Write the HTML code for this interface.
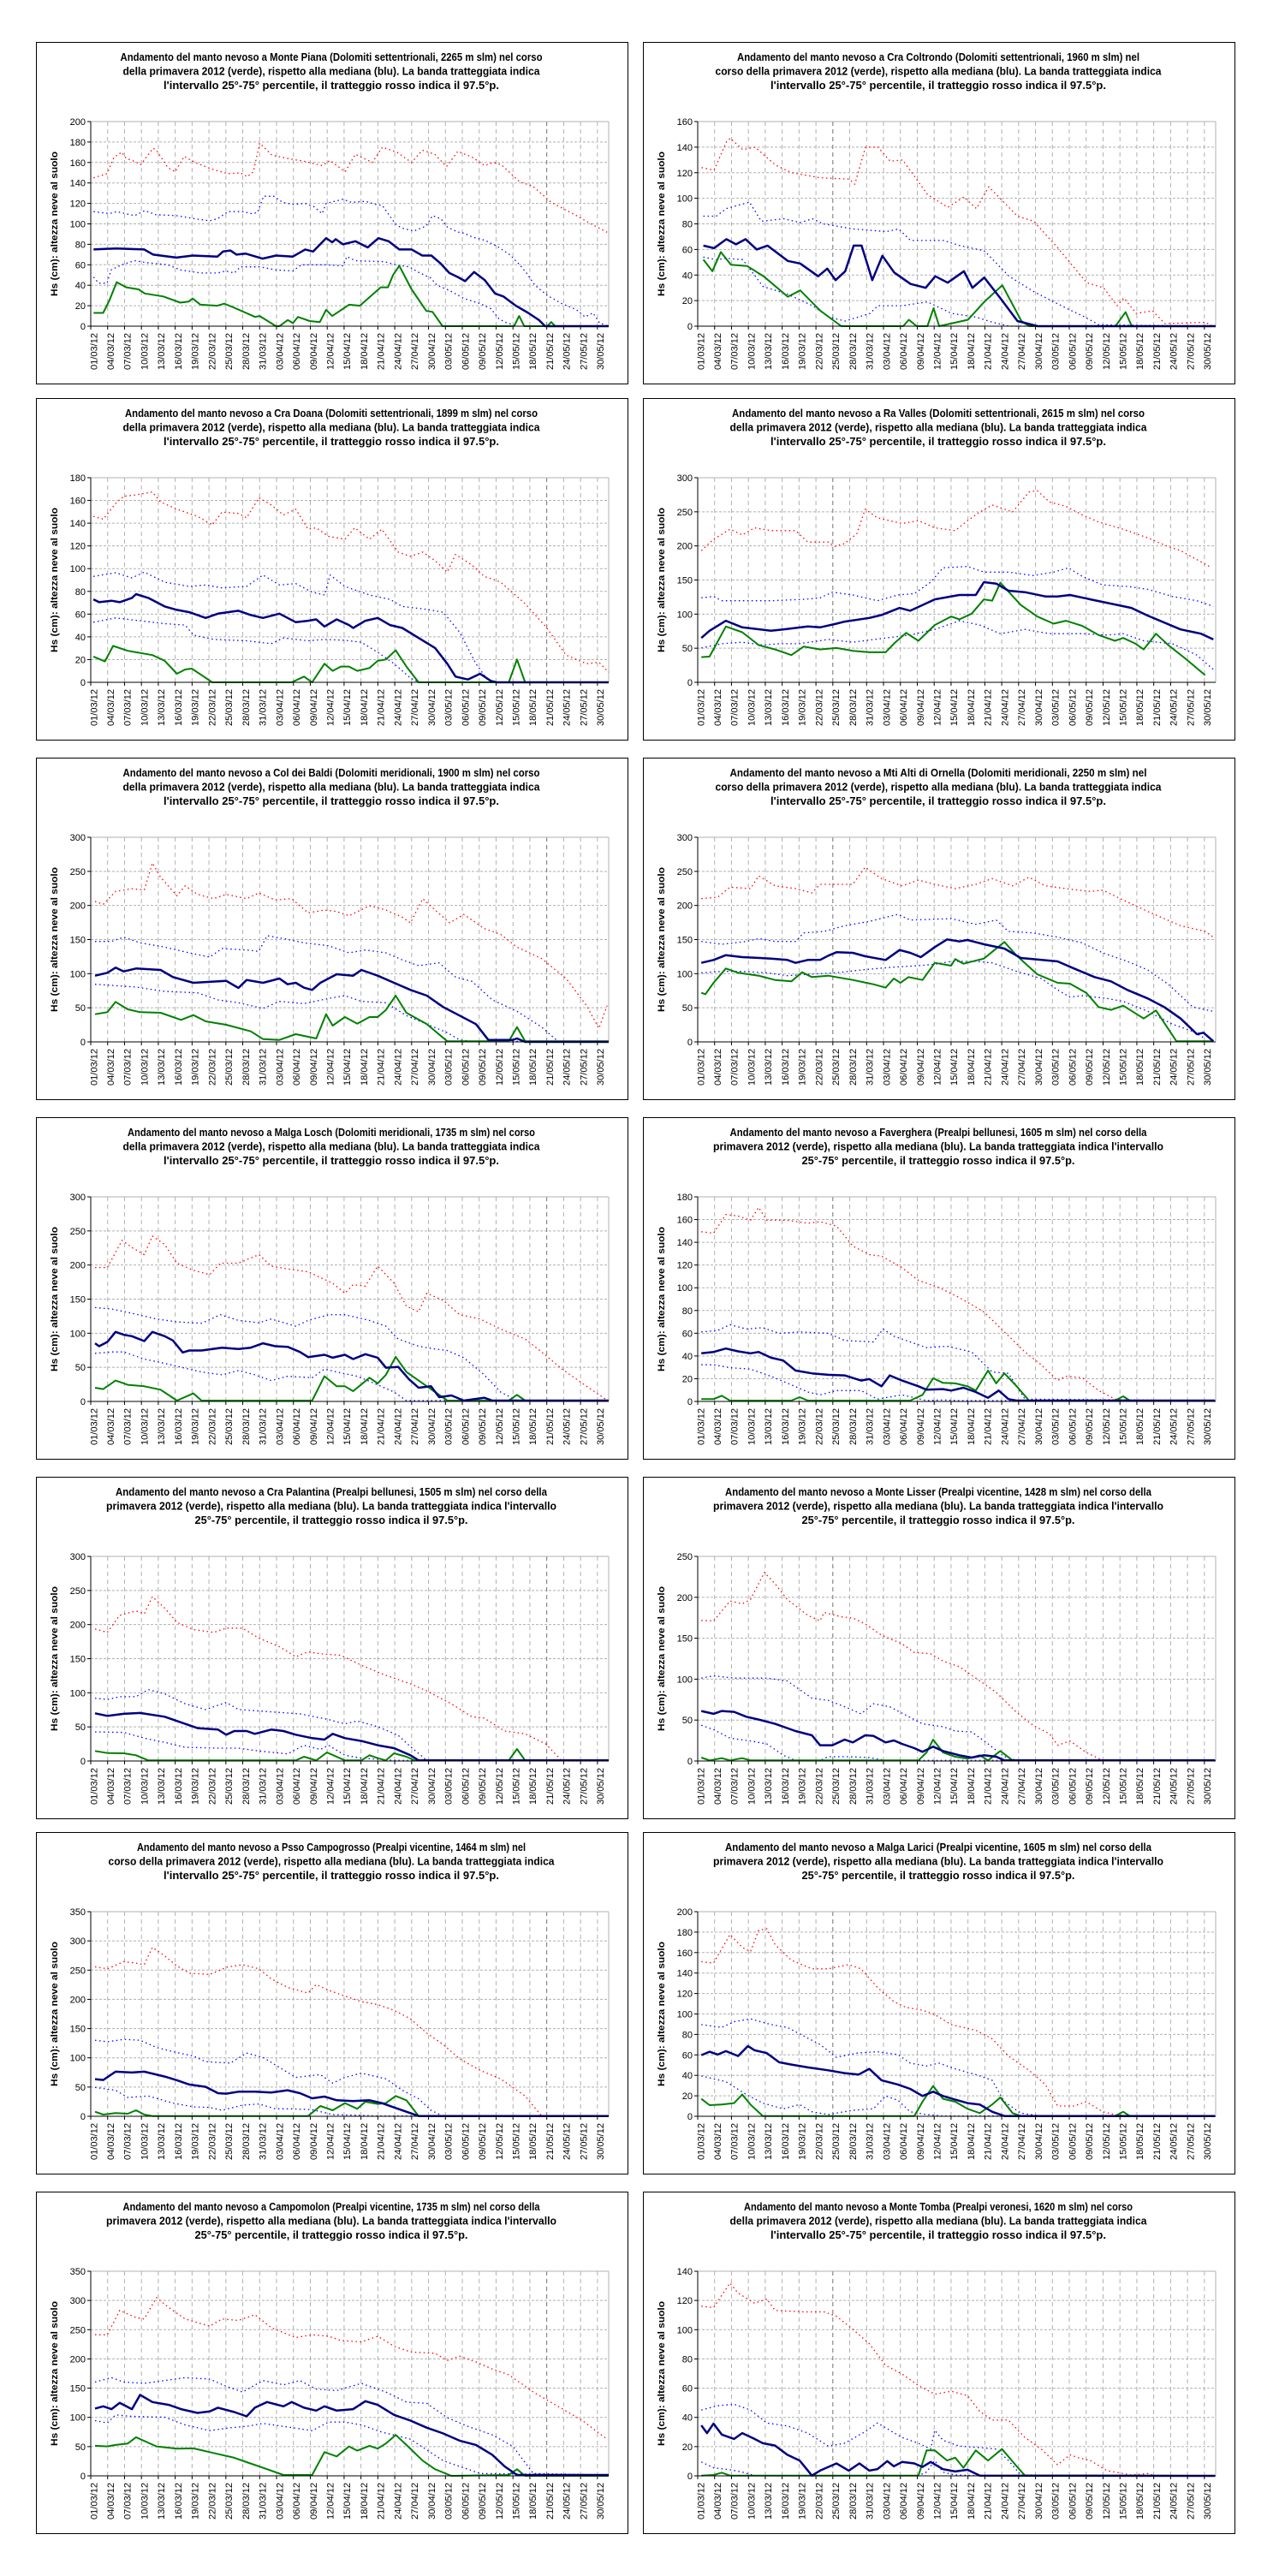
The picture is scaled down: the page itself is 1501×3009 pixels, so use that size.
<!DOCTYPE html>
<html><head><meta charset="utf-8">
<style>html,body{margin:0;padding:0;background:#fff}svg{display:block}</style>
</head><body>
<svg id="s" xmlns="http://www.w3.org/2000/svg" width="1501" height="3009" viewBox="0 0 1501 3009" font-family="'Liberation Sans', sans-serif">
<rect width="1501" height="3009" fill="#fff"/>
<text x="-100" y="-100" font-size="11">Andamento del manto nevoso</text>
</svg>
<script>
var NS="http://www.w3.org/2000/svg";
var svg=document.getElementById('s');
function el(n,a,t){var e=document.createElementNS(NS,n);for(var k in a)e.setAttribute(k,a[k]);if(t!==undefined)e.textContent=t;svg.appendChild(e);return e;}
var L2="della primavera 2012 (verde), rispetto alla mediana (blu). La banda tratteggiata indica";
var L3="l'intervallo 25°-75° percentile, il tratteggio rosso indica il 97.5°p.";
var M2="corso della primavera 2012 (verde), rispetto alla mediana (blu). La banda tratteggiata indica";
var P2="primavera 2012 (verde), rispetto alla mediana (blu). La banda tratteggiata indica l'intervallo";
var P3="25°-75° percentile, il tratteggio rosso indica il 97.5°p.";
var A="Andamento del manto nevoso a ";
var rowsZ=[[37,753],[30,745],[35,752],[38,753],[44,760],[35,751],[38,753]];
var C=[
{t:[A+"Monte Piana (Dolomiti settentrionali, 2265 m slm) nel corso",L2,L3],max:200,step:20,f:'d',s:{
r:[[0,145],[2.4,149],[3.6,165],[5,170],[5.8,164],[7.3,161],[8.4,158],[10.6,174],[11.3,171],[13.2,155],[14.5,151],[16.1,166],[18,160],[21.3,153],[23.9,149],[26.1,150],[27.3,146],[28.4,151],[29.5,179],[31.7,167],[35.4,163],[37.6,161],[40.6,157],[42,162],[44.7,151],[46.5,168],[49.5,160],[51.3,175],[53.9,170],[56.5,160],[58.4,172],[60.6,168],[62.7,156],[64.7,171],[67.3,165],[69.5,157],[71,160],[72.4,158],[75.7,141],[78,137],[81.3,121],[85.8,108],[88,101],[91.5,91]],
b75:[[0,112],[2.8,110],[4.1,112],[7.3,108],[9.1,113],[11,109],[14.7,108],[18,105],[20.6,103],[22,105],[23.9,112],[26.5,112],[28,110],[29.1,111],[30.2,127],[32,127],[33.6,121],[35.4,119],[37.6,120],[39.1,117],[40.6,110],[41.3,120],[44.3,124],[45.8,121],[48.3,122],[50.2,119],[51.3,118],[53.6,100],[54.7,96],[56.9,93],[59.1,98],[60.2,108],[61.7,105],[62.8,97],[64.7,92],[65.8,91],[67.3,87],[69.5,84],[71.7,78],[73.9,70],[75.7,60],[76.9,52],[78.4,40],[80.6,30],[83.2,22],[85.8,16],[87.3,9],[88.7,13],[89.9,3],[91.7,0]],
b25:[[0,48],[0.9,42],[2.4,42],[3.1,55],[5,60],[7.3,64],[9.5,62],[13.2,60],[15.4,55],[19.1,52],[22,52],[23.5,54],[25,52],[26.1,58],[29.5,58],[32.4,55],[35.4,54],[36.9,60],[41.3,60],[44.3,59],[45,68],[46.5,64],[51.7,63],[53.6,60],[56.1,58],[57.6,53],[59.9,47],[61,40],[63.2,35],[65.8,27],[68.7,22],[70.6,17],[72,7],[73.5,3],[75.4,0]],
m:[[0,75],[4,76],[9,75],[10.6,70],[14.7,67],[17.6,69],[22,68],[23,73],[24.3,74],[25.4,70],[27,71],[30,66],[32.4,69],[35.4,68],[37.6,75],[39,73],[41.3,86],[42.4,82],[43,85],[44.3,80],[46.5,83],[48.7,77],[50.6,86],[52.4,83],[54.3,75],[56.5,75],[58.4,69],[60,69],[61.7,61],[63.2,52],[64.7,48],[66,44],[67.6,53],[69.5,45],[71.3,32],[72.8,29],[75,20],[77.2,13],[79.1,6],[80.2,0],[91.7,0]],
g:[[0,13],[1.7,13],[2.8,25],[4.1,43],[5.8,38],[8,36],[9.1,32],[12.4,29],[15.4,23],[16.9,24],[17.6,27],[19,21],[22,20],[23.2,22],[25,18],[28.7,9],[29.5,10],[32.4,0],[33,0],[34.5,6],[35.4,3],[36.3,9],[38.4,5],[40.2,4],[41.3,16],[42.4,10],[45.4,21],[47.3,20],[51,38],[52.3,38],[53.2,50],[54.3,59],[56.5,36],[59.1,15],[60.2,14],[62,0],[74.7,0],[75.6,10],[76.5,0],[80.6,0],[81.3,4],[82,0],[91.7,0]]}},
{t:[A+"Cra Coltrondo (Dolomiti settentrionali, 1960 m slm) nel",M2,L3],max:160,step:20,f:'d',s:{
r:[[0.2,124],[2.4,122],[4.6,144],[5.3,147],[7.5,138],[9.7,140],[13.3,126],[16.2,120],[21.3,116],[26.4,115],[27.4,111],[29.3,140],[31.5,140],[33.7,129],[35.9,130],[40.3,103],[43.9,93],[46.8,101],[49,92],[51.2,109],[56.3,86],[59.2,82],[63.5,61],[68.6,34],[71.6,30],[74,16],[75.2,22],[77.4,10],[80.3,12],[82.5,2],[89.7,3],[91,0]],
b75:[[0.5,86],[2.8,86],[4.6,92],[8.7,97],[10.8,82],[14.8,84],[17.7,81],[19.9,84],[21.8,80],[27.2,76],[33,74],[35.2,76],[37.3,67],[43.2,67],[46.1,63],[50.4,59],[54.8,39],[59.2,27],[65,14],[67.9,8],[70.8,1],[91.7,0]],
b25:[[0.5,54],[2.8,52],[4.6,53],[7.5,52],[11.1,31],[15.5,25],[19.9,16],[22.8,7],[25.7,4],[30.1,10],[31.5,16],[35.9,16],[40.3,19],[44.6,10],[49,7],[51.9,3],[54.8,0],[91.7,0]],
m:[[0.5,63],[2.4,61],[4.6,68],[6.3,64],[8,68],[10,60],[11.9,63],[15.5,51],[17.7,49],[20.9,39],[22.5,45],[24,36],[25.7,43],[27.2,63],[28.6,63],[30.5,36],[32.3,55],[34.4,42],[37.3,33],[40,30],[41.7,39],[43.9,34],[46.8,43],[48.3,30],[50.4,38],[53.4,21],[56.3,4],[59.9,0],[91.7,0]],
g:[[0.5,52],[2.1,43],[3.6,58],[5.4,48],[8.3,47],[11.2,39],[15.5,23],[17.7,28],[21.3,12],[25,0],[36,0],[37,5],[38.4,0],[40.3,0],[41.4,14],[42.4,0],[47.5,5],[50.4,19],[53.6,32],[57,4],[58.4,0],[73.7,0],[75.5,11],[76.6,0],[91.7,0]]}},
{t:[A+"Cra Doana (Dolomiti settentrionali, 1899 m slm) nel corso",L2,L3],max:180,step:20,f:'z',s:{
r:[[113,165],[125,175],[140,120],[150,95],[165,90],[185,80],[195,115],[215,140],[240,165],[258,195],[270,150],[290,155],[300,170],[315,100],[330,125],[345,160],[360,140],[375,210],[385,205],[400,235],[420,245],[432,205],[450,245],[465,210],[485,290],[500,305],[515,290],[530,320],[545,360],[555,298],[575,335],[590,375],[610,395],[640,470],[665,550],[690,650],[715,680],[730,675],[742,710]],
b75:[[113,375],[140,362],[160,380],[175,360],[200,395],[230,410],[250,405],[270,415],[300,410],[320,370],[340,405],[360,400],[380,430],[395,440],[402,370],[420,410],[450,440],[475,455],[490,480],[520,490],[540,500],[560,570],[580,680],[595,740],[610,745],[742,745]],
b25:[[113,535],[140,520],[170,530],[200,540],[225,545],[235,580],[260,595],[300,600],[330,610],[345,590],[375,600],[395,595],[420,598],[440,605],[460,640],[480,680],[500,730],[510,745],[742,745]],
m:[[113,455],[120,465],[135,460],[145,465],[160,450],[165,437],[180,450],[200,480],[215,492],[230,500],[250,520],[265,505],[290,495],[305,510],[320,520],[340,505],[360,535],[375,530],[385,525],[395,550],[410,525],[425,545],[430,555],[445,530],[460,520],[475,545],[490,555],[510,590],[530,625],[545,680],[555,725],[570,735],[585,715],[598,740],[605,745],[742,745]],
g:[[113,655],[127,672],[137,618],[155,635],[185,650],[200,670],[215,715],[225,700],[233,697],[245,720],[258,745],[355,745],[370,725],[380,745],[395,680],[405,705],[415,690],[425,690],[435,705],[450,695],[460,670],[470,665],[482,633],[495,690],[510,745],[620,745],[630,665],[640,745],[742,745]]}},
{t:[A+"Ra Valles (Dolomiti settentrionali, 2615 m slm) nel corso",L2,L3],max:300,step:50,f:'z',s:{
r:[[855,285],[870,245],[890,210],[905,230],[920,205],[940,215],[970,215],[985,255],[1010,255],[1018,270],[1030,260],[1045,225],[1055,140],[1070,170],[1100,190],[1120,180],[1140,205],[1165,215],[1180,180],[1195,150],[1210,125],[1235,150],[1255,80],[1265,75],[1280,115],[1300,130],[1320,160],[1340,185],[1370,210],[1400,240],[1420,265],[1440,285],[1475,340]],
b75:[[855,450],[870,445],[880,460],[900,460],[940,460],[980,455],[1000,450],[1015,430],[1040,440],[1070,460],[1095,440],[1115,435],[1135,395],[1150,345],[1180,340],[1200,360],[1230,360],[1260,372],[1285,360],[1303,345],[1320,375],[1345,405],[1375,410],[1400,420],[1430,445],[1460,460],[1480,480]],
b25:[[855,625],[880,610],[905,605],[930,615],[950,610],[975,610],[1010,595],[1040,605],[1080,590],[1110,580],[1140,560],[1170,530],[1195,545],[1220,575],[1250,560],[1280,575],[1320,575],[1350,580],[1370,575],[1395,600],[1430,610],[1460,650],[1480,700]],
m:[[855,590],[865,565],[885,530],[905,553],[940,565],[955,560],[985,550],[1000,553],[1020,540],[1030,533],[1060,520],[1075,510],[1097,485],[1110,495],[1125,475],[1140,455],[1170,440],[1190,440],[1200,395],[1215,400],[1230,425],[1250,430],[1275,445],[1290,445],[1305,440],[1330,455],[1355,470],[1380,485],[1400,512],[1440,560],[1465,575],[1480,595]],
g:[[855,657],[865,655],[885,550],[905,570],[925,615],[945,630],[965,650],[980,620],[1000,630],[1020,625],[1040,635],[1060,640],[1080,640],[1090,610],[1105,572],[1120,600],[1140,545],[1160,515],[1170,525],[1185,505],[1200,455],[1210,460],[1220,397],[1245,475],[1265,515],[1285,540],[1300,530],[1320,548],[1340,580],[1360,600],[1370,590],[1385,610],[1395,630],[1410,575],[1425,615],[1445,660],[1470,720]]}},
{t:[A+"Col dei Baldi (Dolomiti meridionali, 1900 m slm) nel corso",L2,L3],max:300,step:50,f:'z',s:{
r:[[115,260],[125,270],[140,225],[160,215],[175,220],[185,125],[195,175],[215,240],[225,205],[240,235],[260,250],[275,235],[300,250],[315,230],[335,255],[355,250],[375,300],[395,290],[410,295],[425,310],[450,275],[470,290],[490,315],[500,335],[515,250],[530,290],[548,335],[565,305],[590,355],[610,375],[630,420],[660,460],[690,530],[715,625],[730,705],[740,625]],
b75:[[115,400],[135,400],[150,385],[170,405],[200,420],[230,440],[255,455],[270,425],[300,430],[315,435],[325,380],[345,390],[370,405],[400,415],[425,440],[445,430],[470,440],[490,465],[510,485],[535,475],[555,525],[575,540],[600,605],[630,645],[660,700],[680,750],[742,750]],
b25:[[115,550],[140,555],[165,560],[200,575],[240,580],[265,605],[290,615],[320,635],[340,610],[370,618],[400,600],[420,590],[440,610],[470,615],[495,660],[520,690],[545,720],[560,745],[575,750],[742,750]],
m:[[115,520],[130,510],[140,492],[150,505],[165,495],[195,500],[210,525],[235,545],[275,538],[290,563],[300,535],[320,545],[340,530],[350,550],[360,545],[370,562],[380,570],[390,545],[410,515],[430,520],[440,500],[460,520],[480,545],[500,570],[520,590],[540,630],[560,660],[580,690],[595,745],[625,745],[630,740],[640,752],[742,752]],
g:[[115,655],[130,648],[140,612],[155,638],[170,648],[195,650],[220,675],[235,658],[250,680],[275,692],[305,715],[320,742],[340,745],[360,725],[385,740],[397,655],[405,695],[420,665],[435,688],[450,665],[460,665],[470,640],[482,590],[495,650],[520,690],[545,750],[620,750],[630,700],[640,750],[742,750]]}},
{t:[A+"Mti Alti di Ornella (Dolomiti meridionali, 2250 m slm) nel",M2,L3],max:300,step:50,f:'z',s:{
r:[[855,250],[875,245],[890,210],[915,215],[925,170],[945,205],[970,215],[990,230],[1000,200],[1040,200],[1055,140],[1075,180],[1100,205],[1120,185],[1140,200],[1165,215],[1190,200],[1210,180],[1235,205],[1255,175],[1275,205],[1300,215],[1330,225],[1345,220],[1370,255],[1400,295],[1420,320],[1440,345],[1470,365],[1480,385]],
b75:[[855,400],[880,410],[910,400],[925,390],[945,400],[970,400],[980,370],[1005,365],[1030,345],[1060,330],[1095,305],[1110,325],[1160,320],[1190,340],[1215,325],[1230,365],[1260,370],[1290,385],[1320,405],[1345,440],[1375,470],[1400,500],[1425,550],[1455,630],[1480,645]],
b25:[[855,510],[880,505],[905,505],[935,510],[960,520],[985,515],[1020,510],[1050,500],[1070,495],[1090,490],[1120,485],[1140,480],[1160,470],[1190,470],[1210,475],[1240,505],[1270,530],[1290,570],[1305,595],[1320,590],[1350,600],[1370,610],[1400,645],[1430,690],[1455,715],[1470,740]],
m:[[855,475],[870,465],[885,448],[905,455],[940,460],[960,465],[970,475],[985,465],[1000,465],[1010,450],[1020,438],[1040,440],[1055,452],[1080,465],[1097,430],[1110,440],[1123,455],[1140,420],[1155,393],[1170,400],[1180,395],[1200,410],[1225,425],[1245,458],[1265,463],[1290,470],[1310,495],[1335,525],[1355,540],[1375,570],[1400,600],[1420,630],[1440,670],[1460,725],[1468,720],[1480,750]],
g:[[855,580],[860,585],[870,545],[885,495],[900,510],[925,520],[945,535],[965,540],[978,508],[990,525],[1010,520],[1040,535],[1065,550],[1080,562],[1090,530],[1098,545],[1108,525],[1125,535],[1140,475],[1160,485],[1165,462],[1175,478],[1200,460],[1225,402],[1240,450],[1265,515],[1290,545],[1305,548],[1325,580],[1340,630],[1355,640],[1370,625],[1395,670],[1410,642],[1420,685],[1435,750],[1480,750]]}},
{t:[A+"Malga Losch (Dolomiti meridionali, 1735 m slm) nel corso",L2,L3],max:300,step:50,f:'z',s:{
r:[[115,285],[130,285],[148,190],[160,215],[175,240],[185,175],[200,205],[215,270],[235,295],[255,310],[268,270],[290,270],[315,240],[330,280],[350,290],[375,300],[390,320],[405,340],[420,375],[430,345],[445,350],[460,280],[480,340],[495,420],[510,440],[520,375],[540,400],[560,450],[585,465],[610,500],[640,535],[660,580],[685,640],[715,700],[738,745]],
b75:[[115,425],[135,430],[160,445],[190,465],[215,475],[245,480],[268,450],[290,470],[315,478],[330,465],[360,490],[375,470],[400,450],[420,450],[450,470],[470,490],[485,535],[510,560],[530,570],[545,575],[565,600],[590,660],[610,720],[630,750],[742,750]],
b25:[[115,585],[135,580],[150,580],[175,605],[200,620],[215,630],[245,650],[270,660],[290,645],[310,660],[330,680],[350,665],[380,670],[395,640],[410,650],[435,665],[460,695],[480,720],[495,750],[742,750]],
m:[[115,550],[120,560],[130,545],[140,510],[150,520],[160,525],[175,542],[185,510],[200,525],[210,540],[222,582],[230,575],[245,575],[270,565],[290,570],[305,565],[320,550],[335,560],[350,562],[365,580],[375,598],[395,590],[405,600],[420,590],[430,605],[445,588],[460,600],[470,635],[485,632],[498,675],[510,705],[525,700],[535,738],[550,732],[565,750],[590,740],[600,750],[742,750]],
g:[[115,705],[125,710],[140,680],[155,695],[175,700],[195,712],[215,750],[235,725],[245,750],[380,750],[395,665],[410,700],[420,700],[430,717],[450,670],[460,690],[470,660],[482,597],[495,650],[515,690],[530,720],[545,750],[620,750],[630,730],[640,750],[742,750]]}},
{t:[A+"Faverghera (Prealpi bellunesi, 1605 m slm) nel corso della",P2,P3],max:180,step:20,f:'z',s:{
r:[[855,160],[870,165],[885,100],[900,105],[915,120],[925,75],[935,120],[960,120],[985,130],[1000,125],[1020,140],[1040,210],[1060,240],[1075,245],[1100,285],[1120,330],[1145,355],[1170,390],[1200,440],[1225,510],[1250,580],[1270,625],[1290,680],[1300,665],[1320,670],[1340,715],[1360,745],[1380,750],[1482,750]],
b75:[[855,510],[875,505],[890,485],[910,500],[930,495],[950,515],[975,510],[1010,515],[1030,540],[1065,545],[1077,500],[1090,525],[1110,545],[1130,565],[1155,560],[1185,580],[1210,650],[1230,655],[1250,745],[1482,750]],
b25:[[855,625],[870,625],[890,635],[915,640],[940,665],[965,695],[985,720],[1000,730],[1020,715],[1050,715],[1070,745],[1100,730],[1130,750],[1150,748],[1170,750],[1482,750]],
m:[[855,585],[870,580],[885,568],[900,578],[915,585],[925,580],[940,600],[955,610],[970,645],[990,655],[1010,660],[1030,662],[1050,680],[1060,675],[1075,700],[1085,662],[1100,680],[1120,700],[1130,712],[1150,710],[1160,715],[1175,705],[1190,720],[1205,740],[1218,715],[1230,745],[1240,750],[1482,750]],
g:[[855,745],[870,745],[880,733],[890,750],[965,750],[975,738],[985,750],[1110,750],[1125,730],[1138,672],[1150,688],[1165,690],[1180,700],[1190,715],[1205,645],[1215,690],[1225,655],[1240,700],[1255,750],[1360,750],[1370,735],[1378,750],[1482,750]]}},
{t:[A+"Cra Palantina (Prealpi bellunesi, 1505 m slm) nel corso della",P2,P3],max:300,step:50,f:'z',s:{
r:[[115,298],[130,310],[145,250],[165,235],[175,245],[185,185],[200,225],[215,275],[235,300],[260,310],[275,295],[295,295],[315,330],[340,360],[360,395],[375,378],[390,385],[415,390],[440,425],[470,460],[500,490],[520,515],[550,560],[575,605],[590,610],[615,655],[640,665],[665,700],[685,760],[742,760]],
b75:[[115,540],[130,545],[145,535],[165,535],[180,510],[200,525],[225,560],[250,580],[275,555],[290,580],[315,585],[340,590],[365,595],[400,615],[420,630],[435,620],[460,640],[485,670],[500,710],[520,758],[742,758]],
b25:[[115,658],[150,660],[175,680],[200,695],[225,712],[265,715],[290,715],[315,725],[350,735],[370,705],[390,720],[400,705],[420,740],[440,750],[480,758],[742,758]],
m:[[115,593],[130,602],[150,595],[170,592],[200,605],[220,625],[240,645],[265,650],[275,668],[285,655],[300,655],[310,665],[330,650],[345,655],[360,668],[380,680],[395,685],[405,665],[420,680],[440,690],[460,705],[480,715],[500,740],[510,758],[742,758]],
g:[[115,725],[130,732],[150,733],[165,740],[180,758],[360,758],[370,745],[385,758],[398,730],[420,758],[440,758],[450,740],[460,750],[470,758],[480,733],[495,745],[505,758],[620,758],[630,718],[640,758],[742,758]]}},
{t:[A+"Monte Lisser (Prealpi vicentine, 1428 m slm) nel corso della",P2,P3],max:250,step:50,f:'z',s:{
r:[[855,268],[870,270],[890,200],[905,210],[915,195],[932,100],[945,140],[960,195],[985,250],[1000,270],[1005,240],[1025,255],[1040,260],[1055,280],[1075,320],[1100,350],[1115,380],[1135,385],[1150,410],[1170,430],[1190,470],[1215,520],[1240,590],[1260,635],[1280,665],[1290,705],[1305,690],[1325,730],[1345,758],[1482,758]],
b75:[[855,470],[870,462],[895,470],[935,470],[960,480],[975,510],[990,540],[1010,548],[1030,570],[1050,595],[1065,560],[1085,570],[1105,600],[1125,630],[1150,640],[1165,655],[1185,658],[1205,700],[1225,745],[1240,758],[1482,758]],
b25:[[855,635],[870,650],[890,680],[915,690],[935,700],[955,740],[970,758],[1000,758],[1010,745],[1035,745],[1060,748],[1080,758],[1482,758]],
m:[[855,585],[870,595],[880,585],[895,588],[910,605],[925,615],[945,630],[970,655],[990,670],[1000,705],[1015,705],[1030,685],[1040,695],[1055,670],[1065,672],[1080,695],[1090,688],[1100,700],[1115,715],[1125,728],[1138,710],[1150,725],[1170,740],[1185,748],[1200,740],[1215,745],[1225,758],[1482,758]],
g:[[855,748],[865,758],[880,750],[890,758],[905,750],[915,758],[1120,758],[1130,730],[1138,685],[1150,730],[1165,745],[1180,752],[1195,740],[1205,758],[1220,725],[1235,758],[1482,758]]}},
{t:[A+"Psso Campogrosso (Prealpi vicentine, 1464 m slm) nel",M2,L3],max:350,step:50,f:'z',s:{
r:[[115,228],[130,235],[150,210],[165,215],[175,220],[185,160],[200,190],[215,225],[230,250],[255,255],[275,230],[295,220],[315,235],[330,270],[350,300],[375,320],[385,290],[400,310],[420,330],[440,350],[460,360],[480,380],[500,410],[520,460],[540,500],[560,550],[585,590],[610,620],[640,680],[660,750],[742,750]],
b75:[[115,485],[130,490],[150,482],[170,485],[190,510],[210,525],[235,540],[250,560],[280,565],[300,530],[320,545],[340,580],[360,615],[390,605],[405,635],[420,615],[440,600],[470,620],[490,660],[510,690],[525,730],[540,750],[742,750]],
b25:[[115,650],[140,660],[155,685],[180,680],[210,705],[235,718],[255,720],[270,730],[295,712],[315,708],[335,725],[355,725],[380,728],[405,745],[440,748],[460,750],[742,750]],
m:[[115,621],[125,624],[140,595],[160,598],[175,595],[200,612],[215,625],[230,640],[250,648],[265,670],[275,672],[290,665],[310,665],[330,668],[350,660],[365,670],[380,688],[395,682],[410,695],[430,698],[450,695],[465,705],[480,720],[495,735],[510,750],[742,750]],
g:[[115,735],[125,745],[140,740],[155,742],[165,730],[175,745],[185,750],[375,750],[390,715],[405,730],[420,705],[435,725],[445,700],[460,708],[470,705],[482,680],[495,695],[510,750],[742,750]]}},
{t:[A+"Malga Larici (Prealpi vicentine, 1605 m slm) nel corso della",P2,P3],max:200,step:20,f:'z',s:{
r:[[855,210],[870,215],[890,115],[905,160],[915,175],[925,100],[935,95],[945,150],[965,205],[990,235],[1010,235],[1035,220],[1050,235],[1070,300],[1090,350],[1105,370],[1125,380],[1140,395],[1160,430],[1190,450],[1210,480],[1230,540],[1255,590],[1275,640],[1290,715],[1310,715],[1325,700],[1345,735],[1360,745],[1380,750],[1482,750]],
b75:[[855,430],[880,440],[895,420],[915,410],[940,430],[960,440],[980,470],[1000,500],[1020,545],[1045,530],[1070,525],[1095,535],[1110,565],[1130,575],[1145,565],[1165,585],[1190,605],[1210,625],[1225,700],[1245,740],[1270,750],[1482,750]],
b25:[[855,610],[885,630],[910,675],[930,705],[955,725],[975,710],[990,735],[1010,745],[1040,730],[1065,725],[1080,680],[1095,695],[1110,735],[1130,745],[1150,750],[1482,750]],
m:[[855,537],[865,525],[875,535],[885,523],[900,540],[912,505],[920,520],[935,530],[950,562],[965,570],[985,580],[1010,590],[1030,600],[1047,605],[1060,585],[1075,625],[1095,640],[1110,655],[1125,680],[1138,665],[1150,680],[1165,693],[1180,705],[1195,710],[1210,735],[1225,750],[1482,750]],
g:[[855,690],[865,712],[880,710],[895,705],[905,675],[915,710],[930,750],[1115,750],[1125,700],[1138,645],[1150,690],[1165,700],[1180,725],[1195,740],[1210,710],[1220,685],[1235,740],[1245,750],[1360,750],[1370,735],[1378,750],[1482,750]]}},
{t:[A+"Campomolon (Prealpi vicentine, 1735 m slm) nel corso della",P2,P3],max:350,step:50,f:'z',s:{
r:[[115,260],[130,260],[145,175],[165,200],[175,205],[190,130],[205,165],[225,205],[255,230],[270,205],[290,210],[310,190],[330,235],[360,270],[380,260],[400,265],[415,280],[440,285],[460,265],[480,300],[500,320],[530,325],[545,350],[560,335],[580,355],[600,380],[620,400],[650,460],[680,510],[710,560],[740,625]],
b75:[[115,425],[135,410],[150,425],[175,430],[200,420],[225,410],[255,415],[275,440],[295,460],[320,420],[345,435],[365,420],[385,450],[410,455],[440,430],[470,460],[495,495],[520,500],[545,550],[570,580],[600,610],[625,650],[650,745],[742,750]],
b25:[[115,560],[130,568],[140,540],[160,545],[200,548],[225,575],[255,595],[280,585],[300,580],[320,570],[345,580],[380,595],[400,565],[420,565],[440,575],[465,600],[500,625],[540,700],[570,730],[585,745],[742,750]],
m:[[115,518],[125,510],[135,520],[145,498],[160,520],[170,470],[185,495],[205,505],[220,520],[240,533],[255,528],[265,515],[285,530],[300,545],[310,515],[325,495],[345,510],[355,495],[370,515],[385,525],[395,510],[410,525],[430,520],[445,492],[460,505],[480,540],[500,560],[520,585],[540,605],[560,630],[580,645],[600,680],[615,720],[630,750],[742,750]],
g:[[115,648],[130,650],[140,645],[155,640],[165,618],[190,650],[215,658],[235,657],[255,670],[285,690],[300,705],[320,725],[345,750],[380,750],[395,670],[410,685],[425,650],[435,665],[450,648],[460,658],[470,640],[482,610],[495,645],[515,700],[530,730],[550,753],[620,750],[630,730],[640,753],[742,753]]}},
{t:[A+"Monte Tomba (Prealpi veronesi, 1620 m slm) nel corso",L2,L3],max:140,step:20,f:'z',zt:44,s:{
r:[[855,165],[870,170],[890,85],[900,120],[920,155],[935,140],[945,180],[980,185],[1005,185],[1020,200],[1040,245],[1060,295],[1080,370],[1100,400],[1120,440],[1140,470],[1160,460],[1180,475],[1195,530],[1210,560],[1230,560],[1250,620],[1270,660],[1290,715],[1305,680],[1315,690],[1330,700],[1350,735],[1380,750],[1400,745],[1410,753],[1482,753]],
b75:[[855,525],[875,510],[895,505],[915,525],[935,570],[960,580],[985,605],[1010,650],[1030,640],[1055,600],[1070,570],[1085,595],[1100,620],[1120,640],[1135,660],[1140,595],[1150,630],[1170,650],[1195,655],[1215,660],[1230,700],[1245,750],[1482,753]],
b25:[[855,705],[870,725],[890,732],[905,740],[920,752],[1120,752],[1130,740],[1140,700],[1150,740],[1165,750],[1190,752],[1482,753]],
m:[[855,578],[862,605],[870,572],[880,610],[895,625],[905,605],[920,625],[930,640],[945,648],[960,680],[975,700],[990,752],[1000,735],[1020,710],[1035,735],[1048,710],[1060,735],[1070,730],[1082,702],[1090,720],[1100,705],[1115,710],[1125,722],[1135,705],[1150,730],[1165,738],[1180,732],[1195,752],[1482,753]],
g:[[855,752],[870,750],[880,742],[890,752],[1120,752],[1130,665],[1140,665],[1155,700],[1165,690],[1175,725],[1190,665],[1205,700],[1222,660],[1240,720],[1250,752],[1482,753]]}}
];
var tops=[49,465,885,1305,1725,2140,2560];
var PW=605,PH=239,W=PW/92;
var dates=[];for(var d=0;d<=90;d+=3){var dt=new Date(2012,2,1+d);dates.push([d,('0'+dt.getDate()).slice(-2)+'/'+('0'+(dt.getMonth()+1)).slice(-2)+'/12']);}
C.forEach(function(c,i){
  var row=Math.floor(i/2),col=i%2;
  var px=col?751:42,py=tops[row];
  var Lx=px+64,T=py+93,B=T+PH,R=Lx+PW;
  el('rect',{x:px+0.5,y:py+0.5,width:691,height:399,fill:'#fff',stroke:'#000','stroke-width':1});
  var cx=px+345;
  c.t.forEach(function(s,k){el('text',{x:cx,y:py+22+k*16.5,'text-anchor':'middle','font-size':13,'font-weight':'bold',textLength:(s.length*5.6).toFixed(0),lengthAdjust:'spacingAndGlyphs'},s);});
  for(var v=c.step;v<=c.max;v+=c.step){var y=B-v/c.max*PH;el('line',{x1:Lx,x2:R,y1:y,y2:y,stroke:'#b0b0b0','stroke-width':1,'stroke-dasharray':'3,2'});}
  for(var k=1;k<=30;k++){var x=Lx+k*3*W;var dark=(col==0&&k==27)||(col==1&&k==8);el('line',{x1:x,x2:x,y1:T,y2:B,stroke:dark?'#707070':'#b0b0b0','stroke-width':1,'stroke-dasharray':'5,4'});}
  el('line',{x1:R,x2:R,y1:T,y2:B,stroke:'#b0b0b0'});
  el('line',{x1:Lx,x2:R,y1:T,y2:T,stroke:'#b0b0b0'});
  for(var v=0;v<=c.max;v+=c.step){var y=B-v/c.max*PH;el('line',{x1:Lx-4,x2:Lx,y1:y,y2:y,stroke:'#000'});el('text',{x:Lx-6,y:y+4,'text-anchor':'end','font-size':11},String(v));}
  dates.forEach(function(p){var x=Lx+(p[0]+0.5)*W;el('line',{x1:x-W/2,x2:x-W/2,y1:B,y2:B+4,stroke:'#000'});el('text',{x:0,y:0,transform:'translate('+(x+4)+','+(B+8)+') rotate(-90)','text-anchor':'end','font-size':11,textLength:43,lengthAdjust:'spacingAndGlyphs'},p[1]);});
  el('text',{x:0,y:0,transform:'translate('+(px+25)+','+((T+B)/2)+') rotate(-90)','text-anchor':'middle','font-size':11,'font-weight':'bold',textLength:169,lengthAdjust:'spacingAndGlyphs'},'Hs (cm): altezza neve al suolo');
  var zt=c.zt||rowsZ[row][0],zb=rowsZ[row][1];
  function pts(a){return a.map(function(p){var x,y;if(c.f=='d'){x=Lx+(p[0]+0.5)*W;y=B-p[1]/c.max*PH;}else{x=p[0]/1.045+1;y=T+(p[1]-zt)/(zb-zt)*PH;}
    x=Math.max(Lx,Math.min(R,x));y=Math.max(T,Math.min(B,y));return x.toFixed(1)+','+y.toFixed(1);}).join(' ');}
  var st={r:['#ff0000',1.3,'1.5,3.5'],b75:['#0000ff',1.3,'1.5,3.5'],b25:['#0000ff',1.3,'1.5,3.5'],m:['#000080',2.5,''],g:['#008000',2,'']};
  ['r','b75','b25','g','m'].forEach(function(k){var a={points:pts(c.s[k]),fill:'none',stroke:st[k][0],'stroke-width':st[k][1],'stroke-linejoin':'round'};if(st[k][2])a['stroke-dasharray']=st[k][2];el('polyline',a);});
  el('line',{x1:Lx,x2:Lx,y1:T,y2:B,stroke:'#000'});
  el('line',{x1:Lx,x2:R,y1:B,y2:B,stroke:'#000'});
});
</script>
</body></html>
